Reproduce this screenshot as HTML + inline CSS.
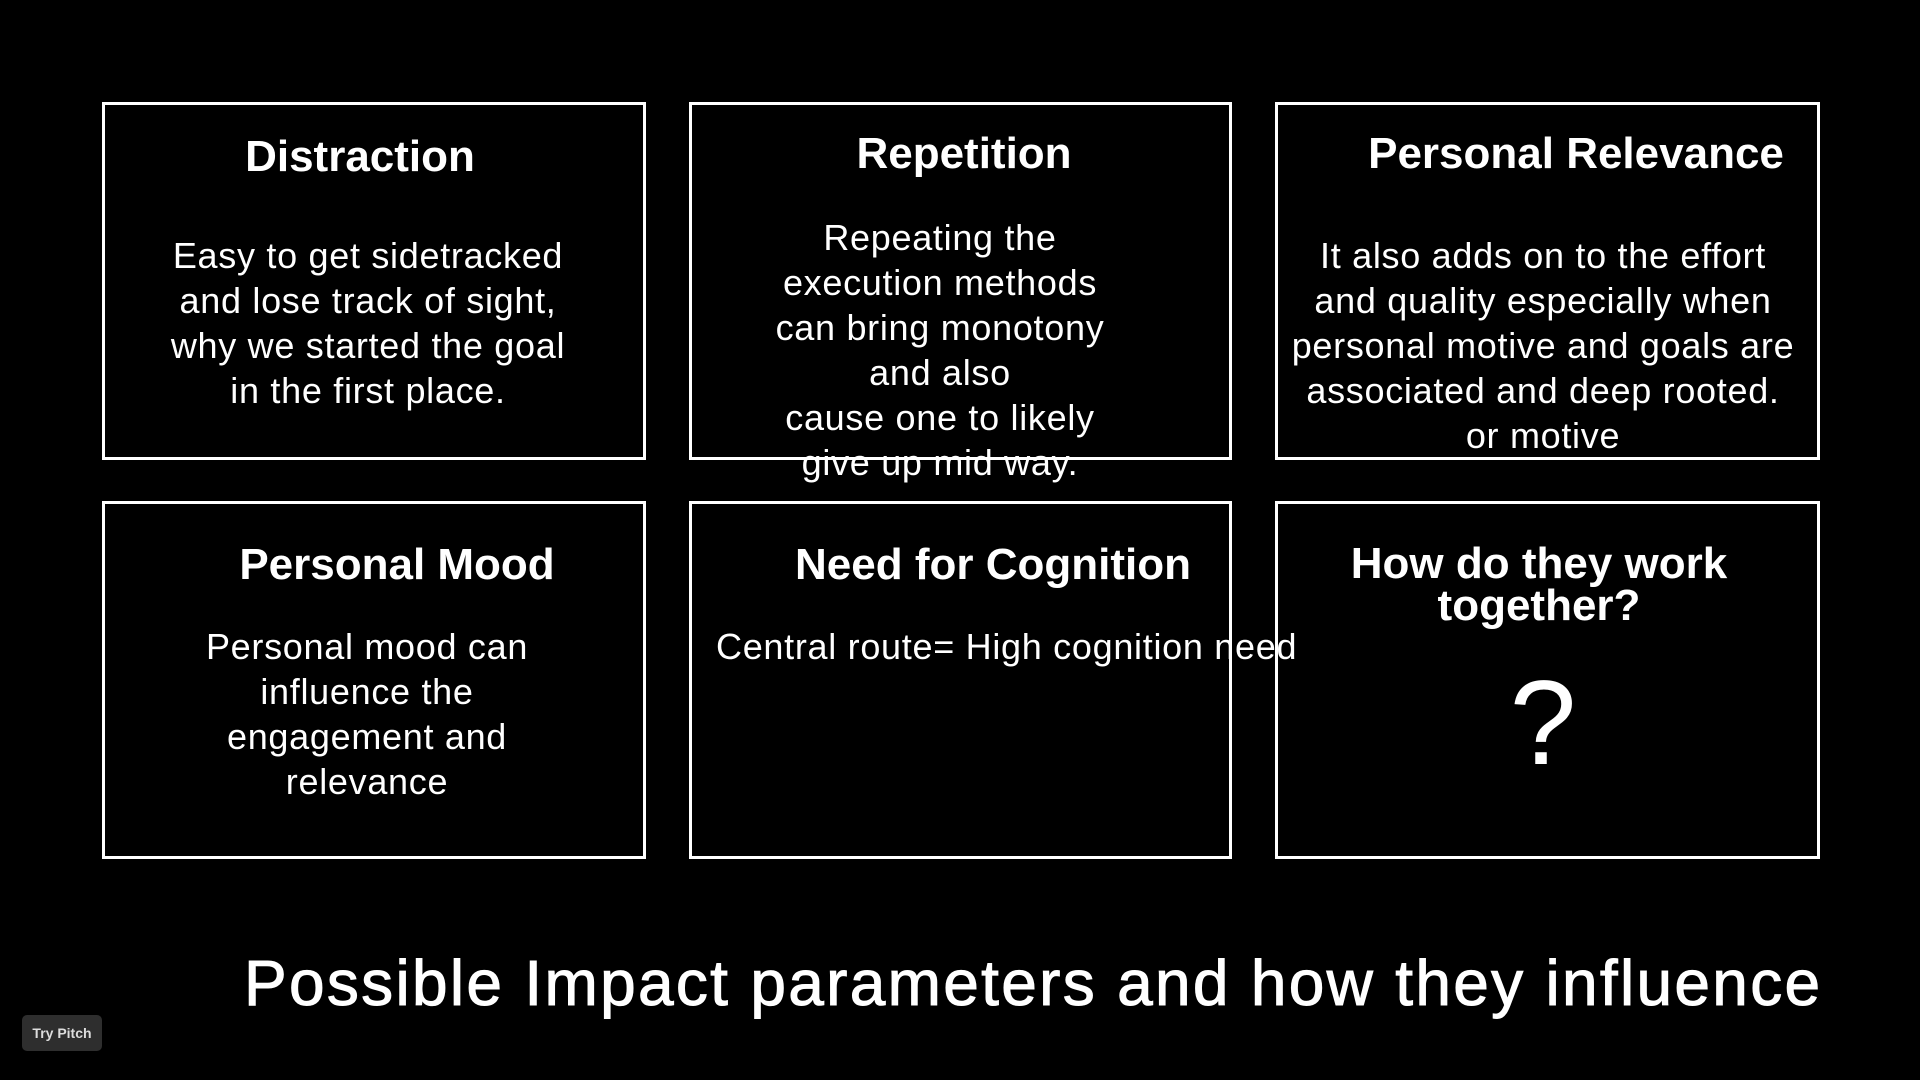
<!DOCTYPE html>
<html><head><meta charset="utf-8"><style>
html,body{margin:0;padding:0;background:#000;}
body{width:1920px;height:1080px;position:relative;overflow:hidden;font-family:"Liberation Sans",sans-serif;color:#fff;}
.box{position:absolute;border:3.5px solid #fff;box-sizing:border-box;}
.t{position:absolute;white-space:nowrap;text-align:center;transform:translateX(-50%);}
.title{font-weight:bold;font-size:44px;line-height:44px;letter-spacing:0px;}
.body{font-size:36px;line-height:45px;letter-spacing:0.7px;}
</style></head><body>
<div class="box" style="left:102px;top:102px;width:544px;height:358px"></div>
<div class="box" style="left:689px;top:102px;width:543px;height:358px"></div>
<div class="box" style="left:1275px;top:102px;width:545px;height:358px"></div>
<div class="box" style="left:102px;top:501px;width:544px;height:358px"></div>
<div class="box" style="left:689px;top:501px;width:543px;height:358px"></div>
<div class="box" style="left:1275px;top:501px;width:545px;height:358px"></div>

<div class="t title" style="left:360px;top:135px">Distraction</div>
<div class="t body" style="left:368px;top:233px">Easy to get sidetracked<br>and lose track of sight,<br>why we started the goal<br>in the first place.</div>

<div class="t title" style="left:964px;top:132px">Repetition</div>
<div class="t body" style="left:940px;top:215px">Repeating the<br>execution methods<br>can bring monotony<br>and also<br>cause one to likely<br>give up mid way.</div>

<div class="t title" style="left:1576px;top:132px">Personal Relevance</div>
<div class="t body" style="left:1543px;top:233px">It also adds on to the effort<br>and quality especially when<br>personal motive and goals are<br>associated and deep rooted.<br>or motive</div>

<div class="t title" style="left:397px;top:543px">Personal Mood</div>
<div class="t body" style="left:367px;top:624px">Personal mood can<br>influence the<br>engagement and<br>relevance</div>

<div class="t title" style="left:993px;top:543px">Need for Cognition</div>
<div class="body" style="position:absolute;left:716px;top:624px;white-space:nowrap">Central route= High cognition need</div>

<div class="t title" style="left:1539px;top:543px;line-height:42px">How do they work<br>together?</div>
<div class="t" style="left:1543px;top:658px;font-size:120px;line-height:130px">?</div>

<div style="position:absolute;left:244px;top:950px;font-size:64px;line-height:66px;white-space:nowrap;-webkit-text-stroke:1px #fff;letter-spacing:2.3px">Possible Impact parameters and how they influence</div>

<div style="position:absolute;left:22px;top:1015px;width:80px;height:36px;background:#2e2e2e;border-radius:5px;font-size:14px;font-weight:bold;line-height:36px;text-align:center;color:#ddd">Try Pitch</div>
</body></html>
